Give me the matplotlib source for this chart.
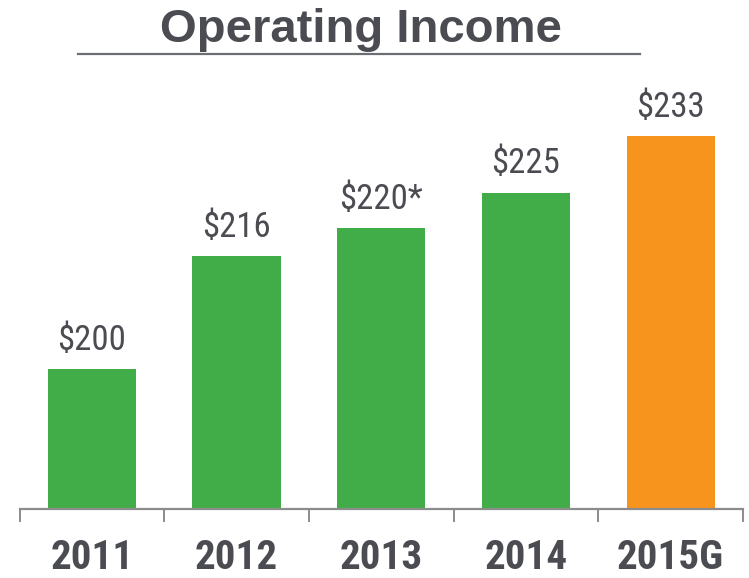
import matplotlib.pyplot as plt
from matplotlib.lines import Line2D

years = ['2011', '2012', '2013', '2014', '2015G']
income = [200, 216, 220, 225, 233]
labels = ['$200', '$216', '$220*', '$225', '$233']
colors = ['#40ad49', '#40ad49', '#40ad49', '#40ad49', '#f7941d']

text_color = '#4b4c52'
narrow = ['Roboto Condensed', 'Liberation Sans', 'DejaVu Sans']

W, H = 749, 578
fig = plt.figure(figsize=(W / 100, H / 100), dpi=100)

# axes placed in pixel terms: baseline at y=509, slots from x=19.5 to 743
left, right, bottom, top = 19.5, 743, 509, 90
ax = fig.add_axes([left / W, (H - bottom) / H, (right - left) / W, (bottom - top) / H])

px_per_unit = 7.06
ymin = 180.2
ax.set_ylim(ymin, ymin + (bottom - top) / px_per_unit)
ax.set_xlim(-0.5, len(years) - 0.5)

x = range(len(years))
ax.bar(x, income, width=0.61, color=colors)

for i, (v, lab) in enumerate(zip(income, labels)):
    ax.annotate(lab, (i, v), xytext=(0, 9), textcoords='offset points',
                ha='center', va='bottom', fontsize=25, color=text_color,
                family=narrow)

for s in ['top', 'right', 'left']:
    ax.spines[s].set_visible(False)
ax.spines['bottom'].set_color('#8c8c8c')
ax.spines['bottom'].set_linewidth(1.6)
ax.set_yticks([])

ax.set_xticks(list(x))
ax.set_xticklabels(years, fontsize=29.5, fontweight='bold', color=text_color, family=narrow)
ax.tick_params(axis='x', which='major', length=0, pad=21.5)
ax.set_xticks([i - 0.5 for i in range(len(years) + 1)], minor=True)
ax.tick_params(axis='x', which='minor', length=9.5, width=1.4, color='#8c8c8c', direction='out')

fig.text(361 / W, 1 - 42 / H, 'Operating Income', ha='center', va='baseline',
         fontsize=34, fontweight='bold', color=text_color, family=['Liberation Sans', 'DejaVu Sans'])
fig.add_artist(Line2D([78 / W, 640 / W], [1 - 54 / H, 1 - 54 / H], transform=fig.transFigure,
                      color='#6d6e73', linewidth=1.6))

fig.savefig('out.png', dpi=100)
